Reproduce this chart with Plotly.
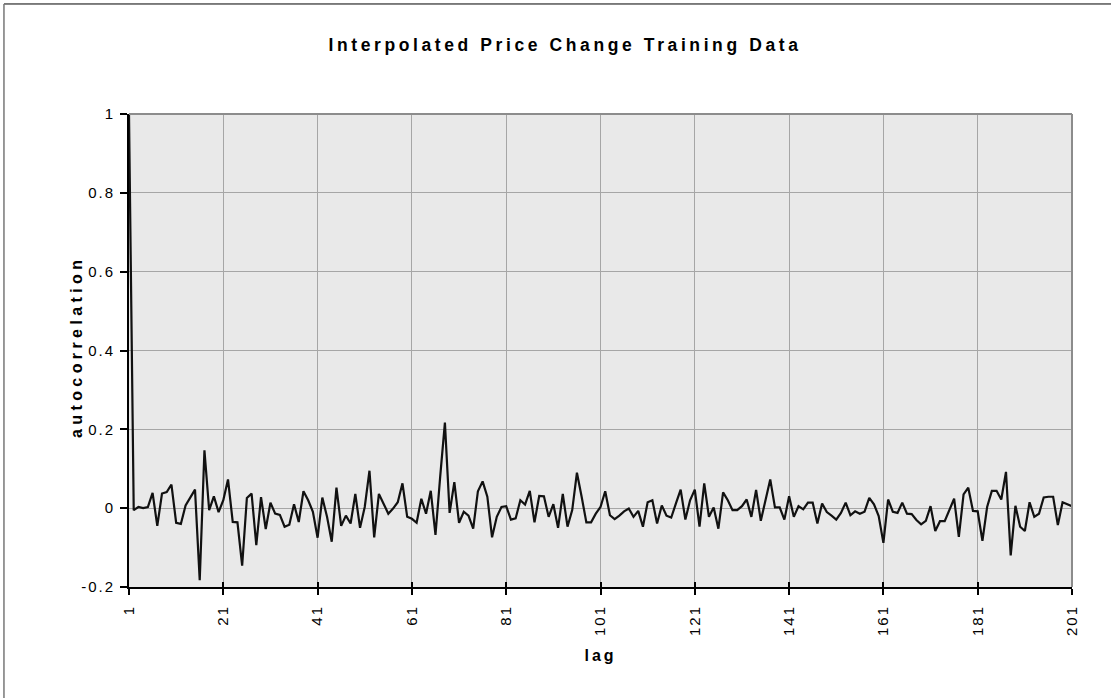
import plotly.graph_objects as go

# autocorrelation values for lags 1..201
lags = list(range(1, 202))
autocorr = [
    1.0, -0.005, 0.003, 0.0, 0.003, 0.039, -0.045, 0.037, 0.041, 0.06,
    -0.037, -0.04, 0.007, 0.026, 0.047, -0.183, 0.147, -0.005, 0.03, -0.01,
    0.02, 0.073, -0.035, -0.036, -0.146, 0.026, 0.037, -0.094, 0.028, -0.053,
    0.014, -0.014, -0.017, -0.047, -0.042, 0.01, -0.035, 0.043, 0.02, -0.009,
    -0.075, 0.027, -0.022, -0.085, 0.052, -0.045, -0.019, -0.039, 0.036, -0.05,
    0.003, 0.095, -0.074, 0.036, 0.012, -0.014, -0.001, 0.015, 0.063, -0.022,
    -0.027, -0.037, 0.024, -0.014, 0.044, -0.068, 0.08, 0.217, -0.012, 0.066,
    -0.037, -0.009, -0.019, -0.052, 0.043, 0.068, 0.029, -0.074, -0.022, 0.003,
    0.005, -0.029, -0.026, 0.02, 0.009, 0.044, -0.036, 0.031, 0.03, -0.022,
    0.01, -0.05, 0.036, -0.047, -0.005, 0.09, 0.029, -0.036, -0.036, -0.014,
    0.003, 0.043, -0.018, -0.028, -0.019, -0.008, -0.001, -0.022, -0.007, -0.047,
    0.015, 0.02, -0.039, 0.007, -0.019, -0.024, 0.012, 0.047, -0.029, 0.02,
    0.047, -0.047, 0.063, -0.022, 0.002, -0.052, 0.04, 0.02, -0.005, -0.005,
    0.005, 0.022, -0.022, 0.046, -0.032, 0.024, 0.073, 0.002, 0.002, -0.029,
    0.03, -0.022, 0.005, -0.003, 0.014, 0.014, -0.039, 0.012, -0.01, -0.019,
    -0.029, -0.012, 0.014, -0.018, -0.008, -0.014, -0.009, 0.026, 0.01, -0.02,
    -0.088, 0.022, -0.009, -0.012, 0.014, -0.014, -0.015, -0.03, -0.041, -0.032,
    0.005, -0.058, -0.033, -0.033, -0.005, 0.024, -0.073, 0.035, 0.052, -0.007,
    -0.008, -0.083, 0.003, 0.044, 0.044, 0.022, 0.092, -0.12, 0.006, -0.047,
    -0.058, 0.015, -0.022, -0.014, 0.027, 0.029, 0.029, -0.043, 0.015, 0.01,
    0.005,
]
x_ticks = list(range(1, 202, 20))
y_ticks = [-0.2, 0, 0.2, 0.4, 0.6, 0.8, 1]
y_tick_labels = ["-0.2", "0", "0.2", "0.4", "0.6", "0.8", "1"]

font = "Arial, Liberation Sans, sans-serif"
grid = "#A6A6A6"

fig = go.Figure()
fig.add_trace(
    go.Scatter(
        x=lags,
        y=autocorr,
        mode="lines",
        line=dict(color="#111111", width=2.2),
        showlegend=False,
        hoverinfo="x+y",
    )
)
# invisible trace so the overlay axis (inner half of the cross ticks) is drawn
fig.add_trace(
    go.Scatter(x=[lags[0]], y=[autocorr[0]], xaxis="x2", mode="lines",
               line=dict(width=0), showlegend=False, hoverinfo="skip")
)

fig.update_layout(
    width=1111,
    height=698,
    paper_bgcolor="white",
    plot_bgcolor="#E9E9E9",
    margin=dict(l=129, r=39, t=114, b=111),
    font=dict(family=font, size=15, color="black"),
    title=dict(
        text="<b>Interpolated Price Change Training Data</b>",
        x=565 / 1111,
        xanchor="center",
        y=1 - 45 / 698,
        yanchor="middle",
        font=dict(size=17.5),
    ),
    xaxis=dict(
        range=[1, 201],
        tickvals=x_ticks,
        tickangle=-90,
        showgrid=True,
        gridcolor=grid,
        gridwidth=1,
        showline=True,
        linecolor="black",
        linewidth=2,
        ticks="outside",
        ticklen=6,
        tickwidth=1.5,
        tickcolor="black",
        ticklabelstandoff=4,
        zeroline=False,
    ),
    xaxis2=dict(
        range=[1, 201],
        overlaying="x",
        side="bottom",
        tickvals=x_ticks,
        showticklabels=False,
        showgrid=False,
        zeroline=False,
        ticks="inside",
        ticklen=5,
        tickwidth=1.5,
        tickcolor="black",
    ),
    yaxis=dict(
        range=[-0.2, 1],
        tickvals=y_ticks,
        ticktext=y_tick_labels,
        showgrid=True,
        gridcolor=grid,
        gridwidth=1,
        showline=True,
        linecolor="black",
        linewidth=2,
        ticks="outside",
        ticklen=7,
        tickwidth=1.5,
        tickcolor="black",
        ticklabelstandoff=2,
        zeroline=False,
    ),
    annotations=[
        dict(text="<b>lag</b>", xref="paper", yref="paper", x=0.5, y=(587 - 655) / 473,
             xanchor="center", yanchor="middle", showarrow=False, font=dict(size=16)),
        dict(text="<b>autocorrelation</b>", xref="paper", yref="paper",
             x=(76 - 129) / 943, y=(587 - 347) / 473, textangle=-90,
             xanchor="center", yanchor="middle", showarrow=False, font=dict(size=16)),
    ],
    shapes=[
        # gray top and right edges of the plot area
        dict(type="line", xref="paper", yref="paper", x0=0, x1=1, y0=1, y1=1,
             line=dict(color="#8C8C8C", width=2)),
        dict(type="line", xref="paper", yref="paper", x0=1, x1=1, y0=0, y1=1,
             line=dict(color="#8C8C8C", width=2)),
        # outer chart frame (only top and left edges fall inside the picture)
        dict(type="line", xref="paper", yref="paper", x0=-0.1326, x1=1.1, y0=1.2326, y1=1.2326,
             line=dict(color="black", width=1)),
        dict(type="line", xref="paper", yref="paper", x0=-0.1326, x1=-0.1326, y0=-0.3, y1=1.2326,
             line=dict(color="#777777", width=1.5)),
    ],
)

# the reference text is set with wide tracking; also drop the default page margin
post = """
document.body.style.margin = '0px';
var st = document.createElement('style');
st.textContent = '.gtitle{letter-spacing:3.6px}' +
                 '.xtick text, .ytick text{letter-spacing:2px}';
document.head.appendChild(st);
document.querySelectorAll('.annotation-text').forEach(function(t){
    t.style.letterSpacing = t.textContent === 'lag' ? '3px' : '4.4px';
});
"""

fig.write_html("out.html", post_script=post, config={"displayModeBar": False})
